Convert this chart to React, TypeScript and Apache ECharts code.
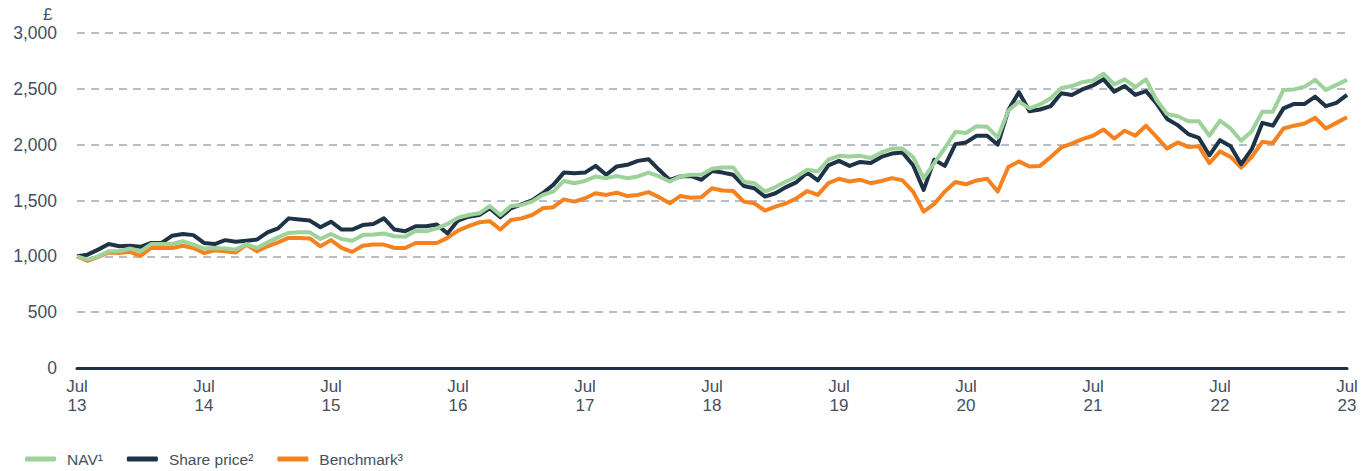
import React, { useEffect, useRef } from "react";
import * as echarts from "echarts";

const MONTHS = ["Jan", "Feb", "Mar", "Apr", "May", "Jun", "Jul", "Aug", "Sep", "Oct", "Nov", "Dec"];
// Monthly categories Jul 2013 .. Jul 2023
const categories: string[] = [];
for (let i = 0; i <= 120; i++) {
  const mi = (6 + i) % 12;
  const yr = 13 + Math.floor((6 + i) / 12);
  categories.push(MONTHS[mi] + " " + String(yr));
}

const navValues = [
  1000, 970, 1000, 1045, 1045, 1070, 1045, 1110, 1110, 1110, 1135, 1105,
  1070, 1075, 1070, 1060, 1110, 1075, 1125, 1170, 1210, 1215, 1215, 1155,
  1200, 1155, 1140, 1190, 1195, 1205, 1180, 1175, 1230, 1225, 1250, 1290,
  1345, 1370, 1385, 1450, 1370, 1450, 1460, 1490, 1550, 1580, 1675, 1655,
  1675, 1715, 1700, 1720, 1700, 1715, 1750, 1715, 1670, 1715, 1730, 1730,
  1785, 1795, 1795, 1670, 1655, 1580, 1620, 1670, 1715, 1775, 1760, 1865,
  1900, 1895, 1900, 1880, 1930, 1965, 1965, 1890, 1700, 1835, 1970, 2115,
  2105, 2165, 2160, 2065, 2305, 2385, 2325, 2360, 2415, 2505, 2525, 2560,
  2575, 2635, 2540, 2585, 2515, 2585, 2400, 2275, 2255, 2210, 2210, 2080,
  2215, 2145, 2035, 2120, 2295, 2295, 2490, 2495, 2520, 2580, 2490, 2535,
  2580,
];

const sharePriceValues = [
  1000, 1015, 1060, 1110, 1090, 1095, 1085, 1120, 1120, 1185, 1200, 1190,
  1120, 1110, 1145, 1130, 1140, 1150, 1215, 1250, 1340, 1330, 1320, 1260,
  1310, 1240, 1240, 1280, 1290, 1340, 1240, 1225, 1270, 1270, 1285, 1205,
  1320, 1355, 1370, 1430, 1350, 1430, 1465, 1500, 1565, 1640, 1750, 1745,
  1750, 1810, 1730, 1805, 1820, 1855, 1870, 1775, 1685, 1715, 1720, 1685,
  1765, 1750, 1730, 1630, 1610, 1535, 1565, 1620, 1665, 1750, 1680, 1815,
  1855, 1810, 1845, 1835, 1890, 1920, 1930, 1815, 1595, 1865, 1810, 2005,
  2020, 2080, 2080, 2000, 2310, 2470, 2300, 2315, 2345, 2460, 2445, 2495,
  2530, 2585, 2475, 2525, 2445, 2480, 2370, 2230, 2175, 2095, 2060, 1905,
  2040, 1985, 1825, 1960, 2195, 2170, 2325, 2365, 2365, 2430, 2345, 2375,
  2445,
];

const benchmarkValues = [
  1000, 960, 995, 1035, 1030, 1040, 1005, 1075, 1075, 1075, 1095, 1075,
  1030, 1055, 1045, 1035, 1105, 1045, 1090, 1125, 1165, 1165, 1160, 1090,
  1145, 1075, 1040, 1095, 1105, 1105, 1075, 1075, 1120, 1120, 1120, 1165,
  1230, 1270, 1305, 1315, 1240, 1325, 1340, 1370, 1430, 1440, 1510, 1490,
  1520, 1565, 1550, 1570, 1540, 1550, 1575, 1530, 1475, 1540, 1525, 1530,
  1610, 1590, 1585, 1490, 1475, 1410, 1445, 1475, 1520, 1585, 1550, 1655,
  1695, 1670, 1685, 1655, 1675, 1700, 1680, 1580, 1400, 1470, 1580, 1665,
  1645, 1680, 1695, 1580, 1800, 1850, 1805, 1810, 1890, 1975, 2010, 2050,
  2080, 2135, 2055, 2125, 2080, 2170, 2070, 1965, 2020, 1980, 1985, 1835,
  1940, 1890, 1795, 1890, 2025, 2015, 2145, 2170, 2190, 2240, 2145, 2195,
  2245,
];

const seriesNames = ["NAV\u00b9", "Share price\u00b2", "Benchmark\u00b3"];
const seriesColors = ["#9dd29b", "#1f3347", "#f5821f"];

const TEXT = "#44505e";
const FONT = "Liberation Sans";

export default function App() {
  const ref = useRef<HTMLDivElement>(null);
  useEffect(() => {
    document.body.style.margin = "0";
    if (!ref.current) return;
    const chart = echarts.init(ref.current, undefined, { renderer: "svg" });
    const data = [navValues, sharePriceValues, benchmarkValues];
    chart.setOption({
      animation: false,
      backgroundColor: "#ffffff",
      textStyle: { fontFamily: FONT },
      grid: { left: 77, right: 17, top: 33, bottom: 103, containLabel: false },
      graphic: [
        {
          type: "text",
          left: 43,
          top: 6,
          style: { text: "£", fill: TEXT, font: `17px ${FONT}` },
        },
      ],
      legend: {
        left: 20,
        top: 446,
        icon: "roundRect",
        itemWidth: 31,
        itemHeight: 5,
        itemGap: 24,
        data: seriesNames,
        textStyle: { color: TEXT, fontSize: 15.5, fontFamily: FONT, padding: [0, 0, 0, 6] },
      },
      xAxis: {
        type: "category",
        data: categories,
        boundaryGap: false,
        axisLine: { show: true, lineStyle: { color: "#1f3347", width: 3 } },
        axisTick: { show: false },
        splitLine: { show: false },
        axisLabel: {
          interval: (i: number) => i % 12 === 0,
          formatter: (v: string) => v.replace(" ", "\n"),
          color: TEXT,
          fontSize: 17,
          lineHeight: 19,
          margin: 9,
          fontFamily: FONT,
        },
      },
      yAxis: {
        type: "value",
        min: 0,
        max: 3000,
        interval: 500,
        axisLine: { show: false },
        axisTick: { show: false },
        axisLabel: {
          color: TEXT,
          fontSize: 17.5,
          margin: 20,
          fontFamily: FONT,
          formatter: (v: number) => v.toLocaleString("en-GB"),
        },
        splitLine: {
          show: true,
          lineStyle: { color: "#a3a8b2", width: 1.5, type: [8, 6] },
        },
      },
      series: seriesNames.map((name, i) => ({
        name,
        type: "line",
        data: data[i],
        symbol: "none",
        z: 10 - i,
        lineStyle: { color: seriesColors[i], width: 4, join: "round" },
        itemStyle: { color: seriesColors[i] },
      })),
    });
    return () => chart.dispose();
  }, []);
  return <div ref={ref} style={{ width: 1364, height: 471 }} />;
}
